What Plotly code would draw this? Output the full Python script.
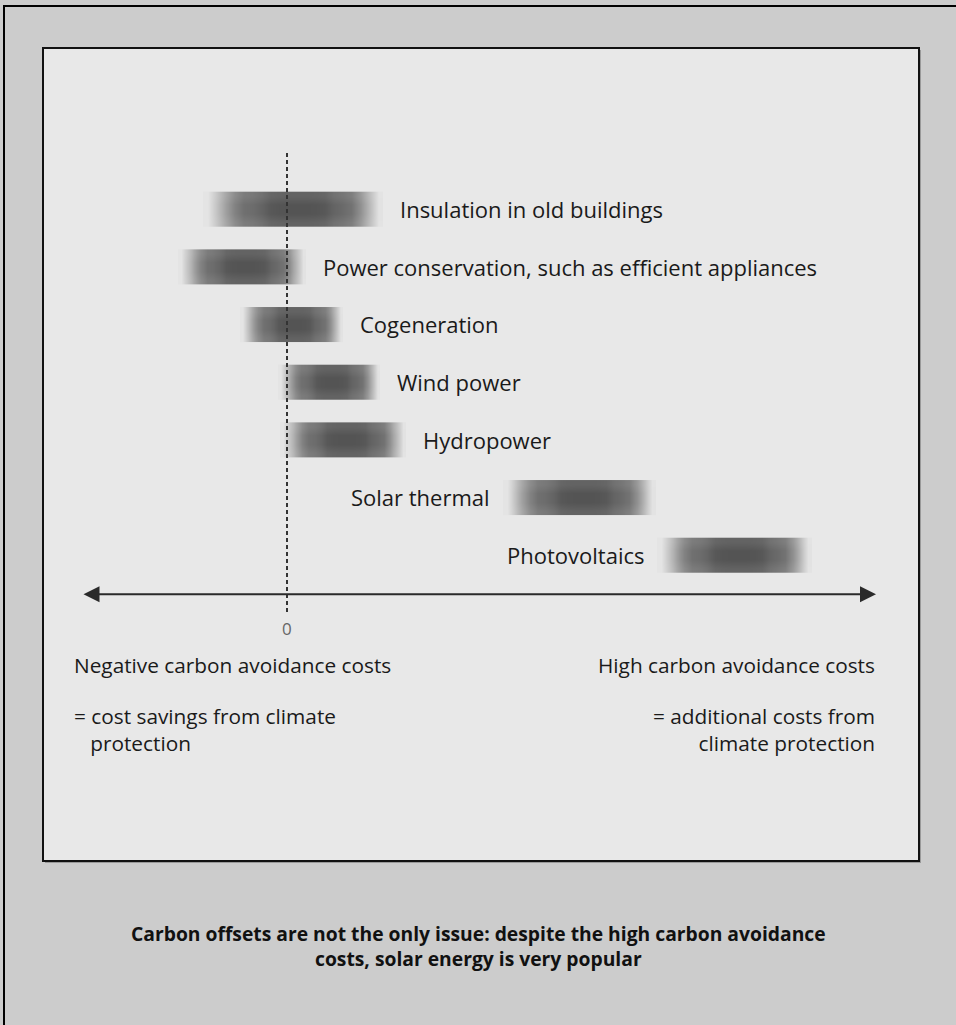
import plotly.graph_objects as go

# technologies, top to bottom
labels = ["Insulation in old buildings",
          "Power conservation, such as efficient appliances",
          "Cogeneration", "Wind power", "Hydropower",
          "Solar thermal", "Photovoltaics"]
# carbon avoidance cost ranges (arbitrary units, 0 = break-even)
cost_low = [-84, -109, -47, -9, -7, 216, 370]
cost_high = [96, 19, 56, 93, 119, 369, 525]
label_side = ["right", "right", "right", "right", "right", "left", "left"]

W, H = 956, 1025
FONT = "Open Sans"
BG = 232

def px(x):
    return x / W

def py(y):
    return 1 - y / H

# grey level of the blurred bars, left edge -> right edge
profile = [228, 195, 160, 130, 112, 108, 100, 88, 85, 84,
           84, 84, 85, 88, 100, 106, 115, 145, 185, 226]
rows = [0.9, 1, 1, 0.9]

fig = go.Figure()
for i, (lo, hi) in enumerate(zip(cost_low, cost_high)):
    dx = (hi - lo) / len(profile)
    z = [[BG + (v - BG) * f for v in profile] for f in rows]
    fig.add_trace(go.Heatmap(
        z=z, x0=lo + dx / 2, dx=dx, y0=i - 0.225, dy=0.15,
        zmin=0, zmax=255, zsmooth="best", showscale=False,
        colorscale=[[0, "rgb(0,0,0)"], [1, "rgb(255,255,255)"]],
        hoverinfo="skip",
    ))

annotations = []
for i, lab in enumerate(labels):
    if label_side[i] == "right":
        annotations.append(dict(x=cost_high[i], y=i, text=lab, showarrow=False,
                                xanchor="left", xshift=15, font=dict(size=22, color="#1a1a1a", family=FONT)))
    else:
        annotations.append(dict(x=cost_low[i], y=i, text=lab, showarrow=False,
                                xanchor="right", xshift=-11, font=dict(size=22, color="#1a1a1a", family=FONT)))

# double-headed horizontal axis arrow
annotations.append(dict(x=589, y=6.68, ax=-205, ay=6.68, xref="x", yref="y", axref="x", ayref="y",
                        text="", showarrow=True, arrowhead=2, arrowsize=1.6, arrowwidth=2,
                        arrowcolor="#2a2a2a", arrowside="end+start", startarrowhead=2, startarrowsize=1.6))
annotations.append(dict(x=0, y=7.27, text="0", showarrow=False, font=dict(size=17, color="#666666", family=FONT)))

txt = dict(size=20.8, color="#1a1a1a", family=FONT)
annotations += [
    dict(x=px(72), y=py(665), xref="paper", yref="paper", text="Negative carbon avoidance costs",
         showarrow=False, xanchor="left", font=txt),
    dict(x=px(72), y=py(700), xref="paper", yref="paper", text="= cost savings from climate<br>   protection",
         showarrow=False, xanchor="left", yanchor="top", align="left", font=txt),
    dict(x=px(877), y=py(665), xref="paper", yref="paper", text="High carbon avoidance costs",
         showarrow=False, xanchor="right", font=txt),
    dict(x=px(877), y=py(700), xref="paper", yref="paper", text="= additional costs from<br>climate protection",
         showarrow=False, xanchor="right", yanchor="top", align="right", font=txt),
    dict(x=0.5, y=py(974), xref="paper", yref="paper",
         text="<b>Carbon offsets are not the only issue: despite the high carbon avoidance<br>costs, solar energy is very popular</b>",
         showarrow=False, font=dict(size=19.3, color="#111111", family=FONT)),
]

shapes = [
    dict(type="rect", xref="paper", yref="paper", x0=px(4), y0=py(6), x1=px(960), y1=py(1030),
         line=dict(color="#000000", width=2), fillcolor="#cccccc", layer="below"),
    dict(type="rect", xref="paper", yref="paper", x0=px(45), y0=py(50), x1=px(921), y1=py(863),
         line=dict(width=0), fillcolor="#999999", layer="below"),
    dict(type="rect", xref="paper", yref="paper", x0=px(43), y0=py(48), x1=px(919), y1=py(861),
         line=dict(color="#111111", width=2), fillcolor="#e8e8e8", layer="below"),
    dict(type="line", xref="x", yref="y", x0=0, x1=0, y0=-0.97, y1=6.99,
         line=dict(color="#333333", width=2, dash="4px,3px")),
]

fig.update_layout(
    width=W, height=H, margin=dict(l=0, r=0, t=0, b=0),
    paper_bgcolor="#cccccc", plot_bgcolor="rgba(0,0,0,0)",
    showlegend=False,
    xaxis=dict(range=[-287, 669], visible=False, fixedrange=True),
    yaxis=dict(range=[(H - 209) / 57.67, -209 / 57.67], visible=False, fixedrange=True),
    shapes=shapes, annotations=annotations,
)

fig.write_html("out.html", config={"displayModeBar": False},
               post_script="document.body.style.margin='0';document.body.style.overflow='hidden';")
